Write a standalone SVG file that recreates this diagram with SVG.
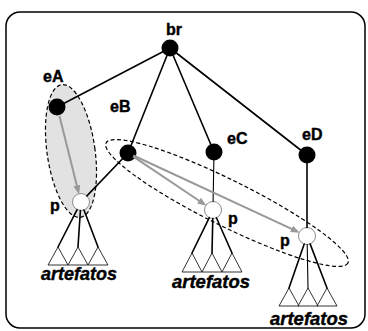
<svg xmlns="http://www.w3.org/2000/svg" width="368" height="331" viewBox="0 0 368 331">
  <style>
    .frame { fill: #ffffff; stroke: #000000; stroke-width: 1.5; }
    .zone { stroke: #000000; stroke-width: 1.2; stroke-dasharray: 4 2.5; }
    .edge { stroke: #000000; stroke-width: 1.6; fill: none; stroke-linecap: round; }
    .thin { stroke-width: 1.1; }
    .flow { stroke: #999999; stroke-width: 2; fill: none; }
    .solid { fill: #000000; }
    .hollow { fill: #ffffff; stroke: #8c8c8c; stroke-width: 1; }
    .tri { fill: #ffffff; stroke: #000000; stroke-width: 0.8; stroke-linejoin: miter; }
    .lbl { font-family: "Liberation Sans", Arial, sans-serif; font-weight: bold; font-size: 16px; fill: #000000; stroke: #000000; stroke-width: 0.4; }
    .art { font-family: "Liberation Sans", Arial, sans-serif; font-weight: bold; font-style: italic; font-size: 18px; fill: #000000; stroke: #000000; stroke-width: 0.4; text-anchor: middle; }
  </style>
  <defs>
    <marker id="grayHead" markerUnits="userSpaceOnUse" markerWidth="9" markerHeight="7" refX="6" refY="3.5" orient="auto">
      <path d="M0,0 L9,3.5 L0,7 z" fill="#999999"/>
    </marker>
  </defs>

  <!-- outer frame -->
  <rect class="frame" x="6" y="12" width="359" height="316" rx="14" ry="14"/>

  <!-- shaded region grouping eA with its p -->
  <g id="regionA">
    <ellipse class="zone" fill="#e2e2e2" cx="71" cy="151" rx="24" ry="67" transform="rotate(-8 71 151)"/>
  </g>

  <!-- dashed region grouping eB with the p of eC and eD -->
  <g id="regionB">
    <ellipse class="zone" fill="none" cx="227" cy="203" rx="135" ry="23" transform="rotate(26.4 227 203)"/>
  </g>

  <!-- nodes -->
  <g id="br">
    <circle class="solid" cx="170" cy="48" r="8.5"/>
    <text class="lbl" x="166" y="35">br</text>
  </g>
  <g id="eA">
    <circle class="solid" cx="57" cy="107" r="8.5"/>
    <text class="lbl" x="43" y="82">eA</text>
  </g>
  <g id="eB">
    <circle class="solid" cx="128" cy="153" r="8.5"/>
    <text class="lbl" x="110" y="112">eB</text>
  </g>
  <g id="eC">
    <circle class="solid" cx="214" cy="152" r="8.5"/>
    <text class="lbl" x="227" y="144">eC</text>
  </g>
  <g id="eD">
    <circle class="solid" cx="307" cy="155" r="8.5"/>
    <text class="lbl" x="302" y="140">eD</text>
  </g>

  <g id="pA">
    <circle class="hollow" cx="81" cy="202" r="8.5"/>
    <text class="lbl" x="50" y="211">p</text>
    <polygon class="tri" points="58,247 48,265 68,265"/>
    <polygon class="tri" points="78,247 68,265 88,265"/>
    <polygon class="tri" points="98,247 88,265 108,265"/>
    <text class="art" x="79" y="280" textLength="76" lengthAdjust="spacingAndGlyphs">artefatos</text>
  </g>
  <g id="pC">
    <circle class="hollow" cx="213" cy="210" r="8.5"/>
    <text class="lbl" x="228" y="224">p</text>
    <polygon class="tri" points="192,253 182,272 202,272"/>
    <polygon class="tri" points="212,253 202,272 222,272"/>
    <polygon class="tri" points="232,253 222,272 242,272"/>
    <text class="art" x="211" y="288" textLength="78" lengthAdjust="spacingAndGlyphs">artefatos</text>
  </g>
  <g id="pD">
    <circle class="hollow" cx="307" cy="236" r="8.5"/>
    <text class="lbl" x="280" y="246">p</text>
    <polygon class="tri" points="289,288 279,306 299,306"/>
    <polygon class="tri" points="308,288 298,306 318,306"/>
    <polygon class="tri" points="327,288 317,306 337,306"/>
    <text class="art" x="309" y="325" textLength="78" lengthAdjust="spacingAndGlyphs">artefatos</text>
  </g>

  <!-- connectors -->
  <g id="connectors">
    <line class="edge" x1="170" y1="48" x2="57" y2="107"/>
    <line class="edge" x1="170" y1="48" x2="128" y2="153"/>
    <line class="edge" x1="170" y1="48" x2="214" y2="152"/>
    <line class="edge" x1="170" y1="48" x2="307" y2="155"/>
    <line class="edge" x1="128" y1="153" x2="86.9" y2="195.9"/>
    <line class="edge thin" x1="214" y1="152" x2="213.1" y2="201.5"/>
    <line class="edge" x1="307" y1="155" x2="307" y2="227.5"/>

    <line class="edge" x1="77.1" y1="209.6" x2="58" y2="247"/>
    <line class="edge" x1="80.4" y1="210.5" x2="78" y2="247"/>
    <line class="edge" x1="84" y1="210" x2="98" y2="247"/>

    <line class="edge" x1="209.3" y1="217.6" x2="192" y2="253"/>
    <line class="edge" x1="212.8" y1="218.5" x2="212" y2="253"/>
    <line class="edge" x1="216.4" y1="217.8" x2="232" y2="253"/>

    <line class="edge" x1="304.2" y1="244" x2="289" y2="288"/>
    <line class="edge thin" x1="307.2" y1="244.5" x2="308" y2="288"/>
    <line class="edge" x1="310.1" y1="243.9" x2="327" y2="288"/>

    <line class="flow" marker-end="url(#grayHead)" x1="59.5" y1="116" x2="78.3" y2="191.4"/>
    <line class="flow" marker-end="url(#grayHead)" x1="133" y1="156.3" x2="204" y2="204"/>
    <line class="flow" marker-end="url(#grayHead)" x1="133.4" y1="155.5" x2="297" y2="231.4"/>
  </g>
</svg>
